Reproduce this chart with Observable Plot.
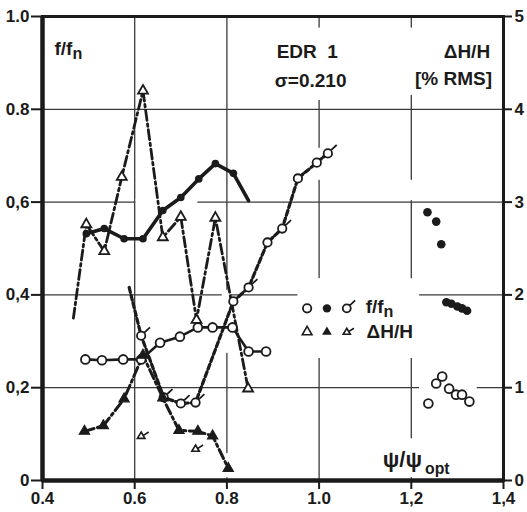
<!DOCTYPE html>
<html><head><meta charset="utf-8">
<script src="https://cdn.jsdelivr.net/npm/d3@7"></script>
<script src="https://cdn.jsdelivr.net/npm/@observablehq/plot@0.6"></script>
<style>
html,body{margin:0;padding:0;background:#fff;}
#chart{width:527px;height:512px;overflow:hidden;}
</style></head><body><div id="chart"></div>
<script>
// ---------- axes ----------
const xTicks = [0.4, 0.6, 0.8, 1.0, 1.2, 1.4];
const xTickLabels = ["0.4", "0.6", "0.8", "1.0", "1,2", "1,4"];
const yTicks = [0, 0.2, 0.4, 0.6, 0.8, 1.0];
const yTickLabels = ["0", "0,2", "0,4", "0,6", "0.8", "1.0"];
const rmsTicks = [0, 1, 2, 3, 4, 5];          // right axis, ΔH/H [% RMS]
const rmsPerUnit = 5;                          // 1.0 on the left axis = 5 % RMS

// ---------- series (x = ψ/ψopt) ----------
// f/fn, filled circles, solid line (last point = unmarked line end)
const aX = [0.495, 0.534, 0.577, 0.618, 0.661, 0.700, 0.739, 0.775, 0.814, 0.847];
const aF = [0.532, 0.543, 0.521, 0.521, 0.582, 0.610, 0.650, 0.683, 0.662, 0.603];
// f/fn, open circles, solid line
const bX = [0.493, 0.529, 0.575, 0.614, 0.655, 0.698, 0.737, 0.769, 0.812, 0.847, 0.885];
const bF = [0.261, 0.259, 0.261, 0.261, 0.297, 0.310, 0.330, 0.330, 0.330, 0.278, 0.278];
// f/fn, flagged circles, dashed line (first point = unmarked line start)
const cX = [0.588, 0.614, 0.663, 0.700, 0.732, 0.814, 0.847, 0.888, 0.920, 0.954, 0.995, 1.019];
const cF = [0.416, 0.312, 0.179, 0.166, 0.168, 0.386, 0.416, 0.513, 0.543, 0.651, 0.685, 0.705];
// ΔH/H [% RMS], open triangles, dash-dot (first point = unmarked line start)
const dX = [0.467, 0.495, 0.534, 0.572, 0.618, 0.661, 0.700, 0.734, 0.775, 0.846];
const dH = [1.75, 2.76, 2.47, 3.27, 4.20, 2.62, 2.84, 1.73, 2.83, 0.99];
// ΔH/H [% RMS], filled triangles, dash-dot
const eX = [0.491, 0.532, 0.577, 0.618, 0.661, 0.696, 0.737, 0.769, 0.803];
const eH = [0.53, 0.59, 0.88, 1.35, 0.89, 0.54, 0.53, 0.48, 0.13];
// ΔH/H [% RMS], flagged triangles (no line)
const fX = [0.614, 0.732];
const fH = [0.48, 0.34];
// f/fn, isolated filled circles
const gX = [1.235, 1.254, 1.265, 1.276, 1.287, 1.300, 1.310, 1.321];
const gF = [0.578, 0.558, 0.509, 0.384, 0.381, 0.375, 0.371, 0.366];
// f/fn, isolated open circles
const hX = [1.237, 1.254, 1.267, 1.282, 1.297, 1.310, 1.326];
const hF = [0.166, 0.209, 0.224, 0.198, 0.185, 0.185, 0.170];

// ---------- helpers ----------
const ink = "#1b1b1b";
const rows = (xs, ys) => xs.map((x, i) => ({x, y: ys[i]}));
const lbl = (ticks, labels) => d => labels[ticks.findIndex(t => Math.abs(t - d) < 1e-9)];
const rmsY = d => d.y / rmsPerUnit;

const A = rows(aX, aF), B = rows(bX, bF), C = rows(cX, cF);
const D = rows(dX, dH), E = rows(eX, eH), F = rows(fX, fH);
const G = rows(gX, gF), H = rows(hX, hF);

const flagCircle = {
  draw(ctx, size) {
    const r = Math.sqrt(size / Math.PI);
    ctx.moveTo(r, 0); ctx.arc(0, 0, r, 0, 2 * Math.PI);
    ctx.moveTo(r * 0.7, -r * 0.7); ctx.lineTo(r * 2.1, -r * 2.0);
  }
};
const flagTriangle = {
  draw(ctx, size) {
    const r = Math.sqrt(size / Math.PI) * 1.1;
    ctx.moveTo(0, -r); ctx.lineTo(r * 0.95, r * 0.6); ctx.lineTo(-r * 0.95, r * 0.6); ctx.closePath();
    ctx.moveTo(r * 0.5, -r * 0.1); ctx.lineTo(r * 1.9, -r * 1.0);
  }
};

// white patches where the original grid is interrupted (layout, data coords)
const gridGaps = [
  {x1: 0.954, x2: 1.218, y1: 0.263, y2: 0.435},   // legend
  {x1: 0.898, x2: 1.099, y1: 0.819, y2: 0.975},   // EDR 1 / σ
  {x1: 1.175, x2: 1.380, y1: 0.830, y2: 0.975},   // ΔH/H [% RMS]
  {x1: 1.120, x2: 1.330, y1: 0.006, y2: 0.090},   // ψ/ψopt
  {x1: 1.218, x2: 1.343, y1: 0.151, y2: 0.237},   // around open circles
  {x1: 0.603, x2: 0.737, y1: 0.594, y2: 0.606},
  {x1: 0.990, x2: 1.010, y1: 0.647, y2: 0.716},
  {x1: 1.190, x2: 1.210, y1: 0.603, y2: 0.647},
  {x1: 0.790, x2: 0.810, y1: 0.274, y2: 0.410},
  {x1: 0.790, x2: 0.810, y1: 0.006, y2: 0.058}
];

const font = "'Liberation Sans', Arial, sans-serif";
const chart = Plot.plot({
  width: 527, height: 512,
  marginTop: 16, marginRight: 24, marginBottom: 32, marginLeft: 42,
  x: {domain: [0.4, 1.4]},
  y: {domain: [0, 1]},
  style: {fontFamily: font, fontSize: "17px", fontWeight: "bold", color: ink, background: "#fff"},
  marks: [
    Plot.ruleX([0.6, 0.8, 1.0, 1.2], {stroke: "#3a3a3a", strokeWidth: 1.3}),
    Plot.ruleY([0.2, 0.4, 0.6, 0.8], {stroke: "#3a3a3a", strokeWidth: 1.3}),
    Plot.rect(gridGaps, {x1: "x1", x2: "x2", y1: "y1", y2: "y2", fill: "#fff"}),
    Plot.frame({stroke: ink, strokeWidth: 3}),
    Plot.ruleX([0.4], {stroke: ink, strokeWidth: 4.5}),
    Plot.ruleY([0], {stroke: ink, strokeWidth: 4.5}),
    Plot.axisX({ticks: xTicks, tickFormat: lbl(xTicks, xTickLabels), tickSize: 9, tickPadding: 2,
      strokeWidth: 2, label: null, fontSize: 17, stroke: ink}),
    Plot.axisY({ticks: yTicks, tickFormat: lbl(yTicks, yTickLabels), tickSize: 11, tickPadding: 2,
      strokeWidth: 2, label: null, fontSize: 17}),
    Plot.axisY({anchor: "right", ticks: rmsTicks.map(v => v / rmsPerUnit),
      tickFormat: d => String(Math.round(d * rmsPerUnit)), tickSize: 8, tickPadding: 3,
      strokeWidth: 2, label: null, fontSize: 17}),

    // lines
    Plot.line(B, {x: "x", y: "y", stroke: ink, strokeWidth: 2.6}),
    Plot.line(A, {x: "x", y: "y", stroke: ink, strokeWidth: 3.6}),
    Plot.line(C, {x: "x", y: "y", stroke: ink, strokeWidth: 3.2, strokeDasharray: "5,3"}),
    Plot.line(D, {x: "x", y: rmsY, stroke: ink, strokeWidth: 2.8, strokeDasharray: "10,3.5,2.5,3.5"}),
    Plot.line(E, {x: "x", y: rmsY, stroke: ink, strokeWidth: 3, strokeDasharray: "10,3.5,2.5,3.5"}),

    // markers
    Plot.dot(A.slice(0, -1), {x: "x", y: "y", r: 3.8, fill: ink}),
    Plot.dot(B, {x: "x", y: "y", r: 4.4, fill: "#fff", stroke: ink, strokeWidth: 1.8}),
    Plot.dot(C.slice(1), {x: "x", y: "y", r: 4.2, symbol: flagCircle, fill: "#fff", stroke: ink, strokeWidth: 1.8}),
    Plot.dot(D.slice(1), {x: "x", y: rmsY, r: 3.7, symbol: "triangle", fill: "#fff", stroke: ink, strokeWidth: 1.8}),
    Plot.dot(E, {x: "x", y: rmsY, r: 3.8, symbol: "triangle", fill: ink, stroke: ink, strokeWidth: 1.2}),
    Plot.dot(F, {x: "x", y: rmsY, r: 3.6, symbol: flagTriangle, fill: "#fff", stroke: ink, strokeWidth: 1.6}),
    Plot.dot(G, {x: "x", y: "y", r: 4.3, fill: ink}),
    Plot.dot(H, {x: "x", y: "y", r: 4.4, fill: "#fff", stroke: ink, strokeWidth: 1.8}),

    // annotations
    Plot.text(["f/fn"], {x: 0.426, y: 0.931, textAnchor: "start", fontSize: 19, fontWeight: "bold"}),
    Plot.text(["EDR  1"], {x: 0.908, y: 0.923, textAnchor: "start", fontSize: 19, fontWeight: "bold"}),
    Plot.text(["σ=0.210"], {x: 0.904, y: 0.862, textAnchor: "start", fontSize: 19, fontWeight: "bold"}),
    Plot.text(["ΔH/H"], {x: 1.371, y: 0.923, textAnchor: "end", fontSize: 19, fontWeight: "bold"}),
    Plot.text(["[% RMS]"], {x: 1.375, y: 0.866, textAnchor: "end", fontSize: 19, fontWeight: "bold"}),
    // legend
    Plot.dot([{x: 0.974, y: 0.371}], {x: "x", y: "y", r: 4.2, fill: "#fff", stroke: ink, strokeWidth: 1.8}),
    Plot.dot([{x: 1.017, y: 0.371}], {x: "x", y: "y", r: 4.2, fill: ink}),
    Plot.dot([{x: 1.060, y: 0.371}], {x: "x", y: "y", r: 4.0, symbol: flagCircle, fill: "#fff", stroke: ink, strokeWidth: 1.8}),
    Plot.dot([{x: 0.974, y: 0.320}], {x: "x", y: "y", r: 3.6, symbol: "triangle", fill: "#fff", stroke: ink, strokeWidth: 1.6}),
    Plot.dot([{x: 1.017, y: 0.320}], {x: "x", y: "y", r: 3.6, symbol: "triangle", fill: ink}),
    Plot.dot([{x: 1.060, y: 0.320}], {x: "x", y: "y", r: 3.4, symbol: flagTriangle, fill: "#fff", stroke: ink, strokeWidth: 1.6}),
    Plot.text(["f/fn"], {x: 1.101, y: 0.375, textAnchor: "start", fontSize: 19, fontWeight: "bold"}),
    Plot.text(["ΔH/H"], {x: 1.103, y: 0.320, textAnchor: "start", fontSize: 19, fontWeight: "bold"}),
    Plot.text(["ψ/ψopt"], {x: 1.138, y: 0.045, textAnchor: "start", fontSize: 22, fontWeight: "bold"})
  ]
});
document.getElementById("chart").appendChild(chart);

// subscripts
d3.select(chart).selectAll("text").each(function() {
  const t = this.textContent;
  if (t === "f/fn") this.innerHTML = 'f/f<tspan dy="0.3em" font-size="0.85em">n</tspan>';
  else if (t === "ψ/ψopt") this.innerHTML = 'ψ/ψ<tspan dx="3" dy="0.45em" font-size="0.72em">opt</tspan>';
});
</script></body></html>
